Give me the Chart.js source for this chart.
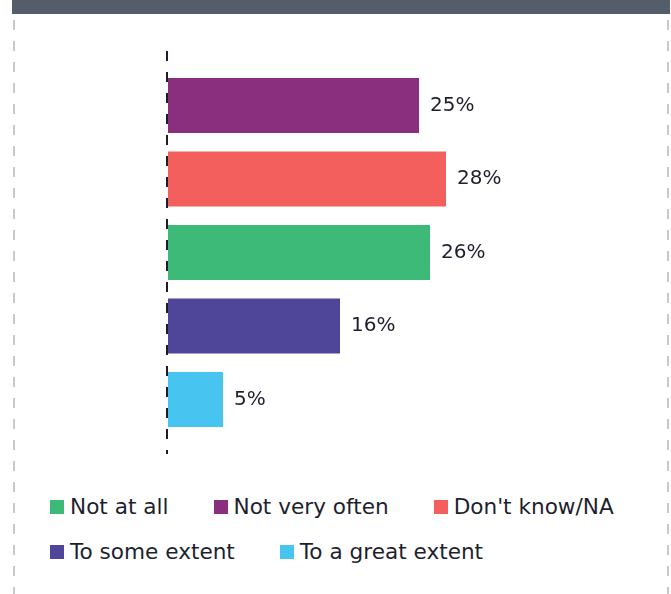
<!DOCTYPE html>
<html lang="en">
<head>
  <meta charset="UTF-8">
  <title>Responses</title>
  <script src="https://cdn.jsdelivr.net/npm/chart.js"></script>
  <style>
    html, body {
      margin: 0;
      background: white;
      font-family: "DejaVu Sans", sans-serif;
      color: #1e1f2e;
    }

    #frame {
      position: relative;
      width: 671px;
      height: 594px;
      overflow: hidden;
    }

    #header {
      position: absolute;
      left: 12px;
      top: 0;
      width: 658px;
      height: 14px;
      background: #535e6a;
    }

    .dash {
      position: absolute;
      top: 20px;
      bottom: 0;
      width: 2px;
      background: repeating-linear-gradient(to bottom, #c6c9cd 0 10px, transparent 10px 21px);
    }
    .dash.left { left: 13px; }
    .dash.right { left: 667px; }

    #chart-box {
      position: absolute;
      left: 0;
      top: 0;
      width: 671px;
      height: 470px;
    }

    #legend {
      position: absolute;
      left: 50px;
      top: 495px;
      width: 590px;
      display: flex;
      flex-wrap: wrap;
      column-gap: 45px;
      row-gap: 21px;
      font-size: 21.6px;
      line-height: 24px;
    }

    .item {
      display: flex;
      align-items: center;
      white-space: nowrap;
    }

    .box {
      width: 14px;
      height: 14px;
      margin-right: 6px;
    }
  </style>
</head>
<body>
  <div id="frame">
    <div id="header"></div>
    <div class="dash left"></div>
    <div class="dash right"></div>
    <div id="chart-box"><canvas id="chart"></canvas></div>
    <div id="legend"></div>
  </div>

  <script>
    // bars top to bottom
    const seriesNames = ['Not very often', "Don't know/NA", 'Not at all', 'To some extent', 'To a great extent'];
    const seriesValues = [25.2, 27.9, 26.3, 17.3, 5.6];
    const valueLabels = ['25%', '28%', '26%', '16%', '5%'];
    const seriesColors = ['#8a2e7e', '#f25f5c', '#3dba78', '#4f469a', '#47c4ef'];
    // legend reads in a different order
    const legendOrder = ['Not at all', 'Not very often', "Don't know/NA", 'To some extent', 'To a great extent'];

    const valueLabelPlugin = {
      id: 'valueLabels',
      afterDatasetsDraw(chart) {
        const ctx = chart.ctx;
        ctx.save();
        ctx.font = '20px "DejaVu Sans"';
        ctx.fillStyle = '#1e1f2e';
        ctx.textBaseline = 'middle';
        chart.data.datasets.forEach((ds, i) => {
          const bar = chart.getDatasetMeta(i).data[0];
          if (!bar) return;
          ctx.fillText(valueLabels[i], bar.x + 11, bar.y);
        });
        ctx.restore();
      }
    };

    const chart = new Chart(document.getElementById('chart'), {
      type: 'bar',
      data: {
        labels: [''],
        datasets: seriesNames.map((name, i) => ({
          label: name,
          data: [seriesValues[i]],
          backgroundColor: seriesColors[i],
          categoryPercentage: 0.912,
          barPercentage: 0.748
        }))
      },
      options: {
        indexAxis: 'y',
        animation: false,
        responsive: true,
        maintainAspectRatio: false,
        layout: {
          padding: { top: 51, bottom: 16, left: 0, right: 54 }
        },
        scales: {
          x: {
            min: 0,
            max: 45,
            ticks: { display: false },
            grid: {
              drawTicks: false,
              lineWidth: 2,
              // only the zero line is shown, dashed
              color: (c) => c.tick && c.tick.value === 0 ? '#1c1c2a' : 'transparent'
            },
            border: { display: false, dash: [10, 11] }
          },
          y: {
            ticks: { display: false },
            grid: { display: false },
            border: { display: false },
            afterFit(scale) {
              scale.width = 167;
            }
          }
        },
        plugins: {
          legend: { display: false },
          tooltip: { enabled: false }
        }
      },
      plugins: [valueLabelPlugin]
    });

    const legendEl = document.getElementById('legend');
    legendOrder.forEach(name => {
      const idx = seriesNames.indexOf(name);
      const item = document.createElement('div');
      item.className = 'item';
      const box = document.createElement('span');
      box.className = 'box';
      box.style.background = seriesColors[idx];
      const text = document.createElement('span');
      text.textContent = name;
      item.appendChild(box);
      item.appendChild(text);
      legendEl.appendChild(item);
    });
  </script>
</body>
</html>
